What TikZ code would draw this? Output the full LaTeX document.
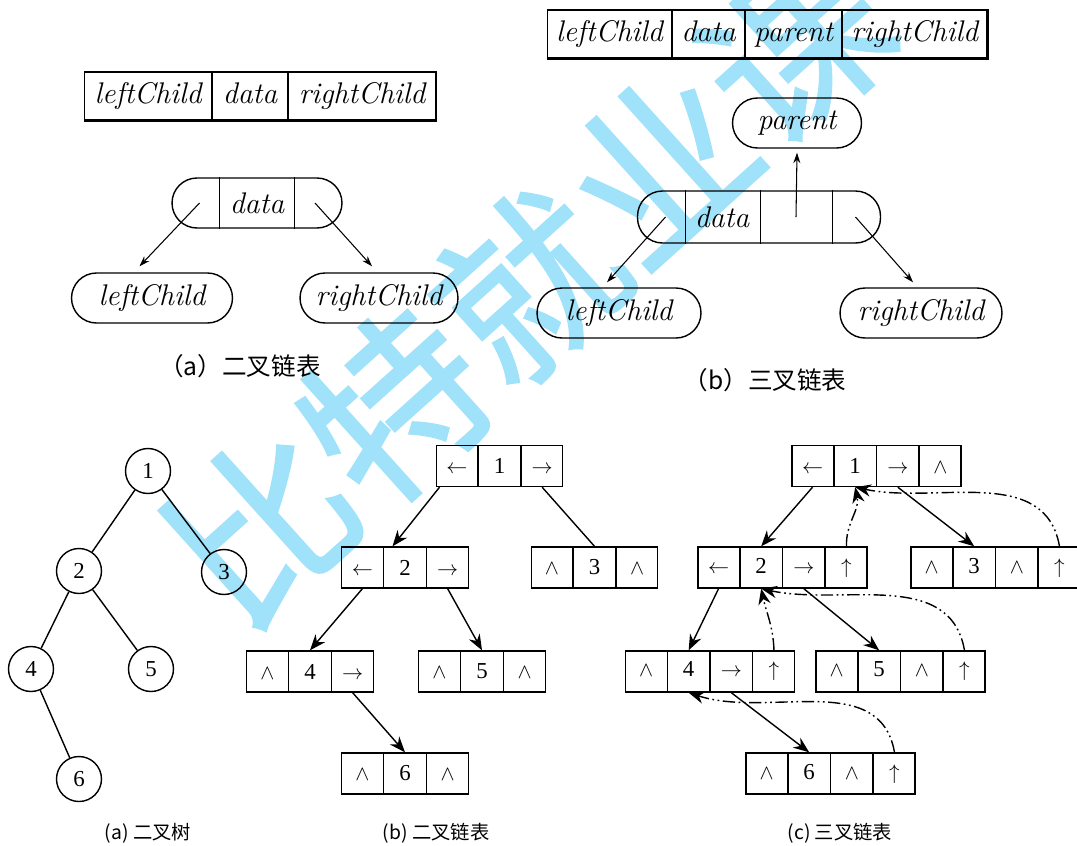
\documentclass[tikz,border=0pt]{standalone}
\usepackage{fontspec}
\newfontfamily\tnr{Liberation Serif}
\newfontfamily\cjk{Noto Sans CJK SC}
\newfontfamily\wmfont[FakeBold=1.2]{Noto Sans CJK SC}
\usetikzlibrary{positioning, arrows.meta, shapes.multipart}
\definecolor{wmblue}{RGB}{160,226,250}
\newcommand{\cellc}[1]{\makebox[0.825cm]{#1}}
\newcommand{\rthree}[3]{\cellc{#1}\nodepart{two}\cellc{#2}\nodepart{three}\cellc{#3}}
\newcommand{\rfour}[4]{\rthree{#1}{#2}{#3}\nodepart{four}\cellc{#4}}
\newcommand{\lptr}{$\leftarrow$}
\newcommand{\rptr}{$\rightarrow$}
\newcommand{\nptr}{$\wedge$}
\newcommand{\pptr}{$\uparrow$}
\tikzset{
    >={Stealth[length=9pt, width=7pt]}, % big filled heads for the lower pictures
    field/.style={rectangle split, rectangle split horizontal, rectangle split part align=base, draw, inner xsep=0.2cm, minimum height=0.96cm, font=\fontsize{17}{20}\selectfont\itshape}, % record layout on top
    capsule/.style={draw, rounded corners=0.5cm, minimum height=1cm, inner sep=0pt, font=\fontsize{17}{20}\selectfont\itshape}, % rounded node
    thin link/.style={-{Stealth[length=6pt, width=4pt]}, line width=0.6pt},
    tnode/.style={draw, circle, minimum size=0.9cm, inner sep=0pt, font=\tnr\fontsize{13}{15}\selectfont},
    cells3/.style={rectangle split, rectangle split horizontal, rectangle split part align=base, rectangle split parts=3, draw, inner xsep=0pt, inner ysep=0pt, minimum height=0.82cm, font=\tnr\fontsize{13}{15}\selectfont},
    cells4/.style={cells3, rectangle split parts=4},
    uplink/.style={->, dash pattern=on 7pt off 2pt on 1pt off 2pt on 1pt off 2pt}, % parent pointers
    caption/.style={font=\cjk\fontsize{14}{16}\selectfont},
    subcap/.style={font=\cjk\fontsize{11}{13}\selectfont},
}
\begin{document}
\begin{tikzpicture}[x=0.02cm, y=-0.02cm, line width=0.8pt]
    \useasboundingbox (0,0) rectangle (1077,845);
    % watermark
    \node[rotate=42, text=wmblue, inner sep=0pt, font=\wmfont\fontsize{102}{102}\selectfont] (wm) at (528,286) {比特就业课};

    % (a) binary linked list, top left
    \node[field, rectangle split parts=3] (recA) at (260,96) {leftChild\nodepart{two}data\nodepart{three}rightChild};
    \draw[line width=1.6pt] (recA.south west) -| (recA.north east);
    \node[capsule, minimum width=3.4cm] (capA) at (257,203) {data};
    \draw ([xshift=-0.75cm]capA.north) -- ([xshift=-0.75cm]capA.south);
    \draw ([xshift=0.75cm]capA.north) -- ([xshift=0.75cm]capA.south);
    \node[capsule, minimum width=3.22cm] (lcA) at (152,298) {leftChild};
    \node[capsule, minimum width=3.16cm] (rcA) at (379,298) {rightChild};
    \draw[thin link] ([xshift=-1.15cm]capA.center) -- ([xshift=-0.25cm, yshift=0.12cm]lcA.north);
    \draw[thin link] ([xshift=1.16cm]capA.center) -- ([xshift=-0.14cm, yshift=0.12cm]rcA.north);
    \node[caption] (capta) at (240,366) {（a）二叉链表};

    % (b) trinary linked list, top right
    \node[field, rectangle split parts=4, inner xsep=0.17cm] (recB) at (767,34) {leftChild\nodepart{two}data\nodepart{three}parent\nodepart{four}rightChild};
    \draw[line width=1.6pt] (recB.south west) -| (recB.north east);
    \node[capsule, minimum width=2.58cm] (parB) at (797,123) {parent};
    \node[capsule, minimum width=4.86cm, minimum height=1.04cm] (capB) at (759,217) {};
    \node[font=\fontsize{17}{20}\selectfont\itshape] (datB) at (722,217) {data};
    \draw ([xshift=-1.47cm]capB.north) -- ([xshift=-1.47cm]capB.south);
    \draw ([xshift=0.03cm]capB.north) -- ([xshift=0.03cm]capB.south);
    \draw ([xshift=1.47cm]capB.north) -- ([xshift=1.47cm]capB.south);
    \node[capsule, minimum width=3.28cm] (lcB) at (619,313) {leftChild};
    \node[capsule, minimum width=3.24cm] (rcB) at (921,313) {rightChild};
    \draw[thin link] ([xshift=0.74cm]capB.center) -- ([yshift=-0.08cm]parB.south);
    \draw[thin link] ([xshift=-1.87cm]capB.center) -- ([xshift=-0.24cm, yshift=0.1cm]lcB.north);
    \draw[thin link] ([xshift=1.93cm]capB.center) -- ([xshift=-0.16cm, yshift=0.1cm]rcB.north);
    \node[caption] (captb) at (765,380) {（b）三叉链表};

    % binary tree
    \node[tnode] (t1) at (148,471) {1};
    \node[tnode] (t2) at (79,571) {2};
    \node[tnode] (t3) at (224,572) {3};
    \node[tnode] (t4) at (31,669) {4};
    \node[tnode] (t5) at (151,669) {5};
    \node[tnode] (t6) at (79,779) {6};
    \draw (t1) -- (t2);
    \draw (t1) -- (t3);
    \draw (t2) -- (t4);
    \draw (t2) -- (t5);
    \draw (t4) -- (t6);
    \node[subcap] (capt1) at (148,833) {(a) 二叉树};

    % binary linked list
    \node[cells3] (b1) at (499.5,466) {\rthree{\lptr}{1}{\rptr}};
    \node[cells3] (b2) at (405,567.5) {\rthree{\lptr}{2}{\rptr}};
    \node[cells3] (b3) at (594.5,567.5) {\rthree{\nptr}{3}{\nptr}};
    \node[cells3] (b4) at (310,671.5) {\rthree{\nptr}{4}{\rptr}};
    \node[cells3] (b5) at (482,671.5) {\rthree{\nptr}{5}{\nptr}};
    \node[cells3] (b6) at (405,773.5) {\rthree{\nptr}{6}{\nptr}};
    \draw[->] ([xshift=0.08cm]b1.south west) -- ([xshift=-0.25cm]b2.two north);
    \draw (b1.three south) -- (b3.two north);
    \draw[->] (b2.one south) -- (b4.two north);
    \draw[->] (b2.three south) -- (b5.two north);
    \draw[->] (b4.three south) -- (b6.two north);
    \node[subcap] (capt2) at (436,833) {(b) 二叉链表};

    % trinary linked list
    \node[cells4] (c1) at (876.5,466) {\rfour{\lptr}{1}{\rptr}{\nptr}};
    \node[cells4] (c2) at (782.5,567.5) {\rfour{\lptr}{2}{\rptr}{\pptr}};
    \node[cells4] (c3) at (995.5,567.5) {\rfour{\nptr}{3}{\nptr}{\pptr}};
    \node[cells4] (c4) at (710,671.5) {\rfour{\nptr}{4}{\rptr}{\pptr}};
    \node[cells4] (c5) at (900.5,671.5) {\rfour{\nptr}{5}{\nptr}{\pptr}};
    \node[cells4] (c6) at (830.5,773.5) {\rfour{\nptr}{6}{\nptr}{\pptr}};
    \draw[->] (c1.one south) -- (c2.two north);
    \draw[->] (c1.three south) -- (c3.two north);
    \draw[->] (c2.one south) -- (c4.two north);
    \draw[->] (c2.three south) -- (c5.two north);
    \draw[->] (c4.three south) -- (c6.two north);
    \draw[uplink] (c2.four north) to[out=92, in=-78] (c1.two south);
    \draw[uplink] (c3.four north) to[out=100, in=-12] (c1.two south);
    \draw[uplink] (c4.four north) to[out=92, in=-78] (c2.two south);
    \draw[uplink] (c5.four north) to[out=100, in=-12] (c2.two south);
    \draw[uplink] (c6.four north) to[out=100, in=-18] (c4.two south);
    \node[subcap] (capt3) at (840,833) {(c) 三叉链表};
\end{tikzpicture}
\end{document}
